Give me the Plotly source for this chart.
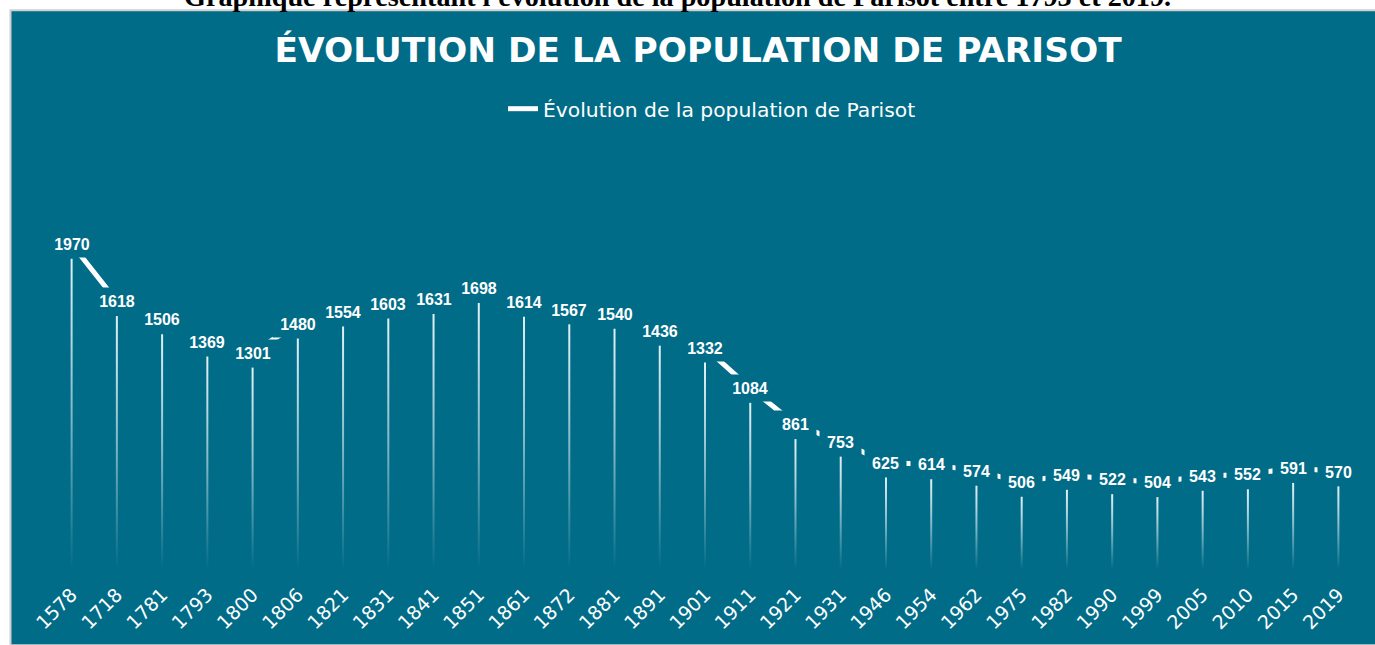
import plotly.graph_objects as go

# Census years and population counts for Parisot
years = ["1578", "1718", "1781", "1793", "1800", "1806", "1821", "1831", "1841", "1851",
         "1861", "1872", "1881", "1891", "1901", "1911", "1921", "1931", "1946", "1954",
         "1962", "1975", "1982", "1990", "1999", "2005", "2010", "2015", "2019"]
population = [1970, 1618, 1506, 1369, 1301, 1480, 1554, 1603, 1631, 1698,
              1614, 1567, 1540, 1436, 1332, 1084, 861, 753, 625, 614,
              574, 506, 549, 522, 504, 543, 552, 591, 570]

series_name = "Évolution de la population de Parisot"
chart_title = "ÉVOLUTION DE LA POPULATION DE PARISOT"
caption = "Graphique représentant l'évolution de la population de Parisot entre 1793 et 2019."

# ---- page geometry (pixels) ----
W, H = 1375, 645
M_L, M_R, M_T, M_B = 49, 14, 150, 61
PX_PER_UNIT = 0.1644
PLOT_W = W - M_L - M_R
PLOT_H = H - M_T - M_B
Y_MAX = PLOT_H / PX_PER_UNIT
LABEL_LIFT = 15 / PX_PER_UNIT      # labels and connecting line sit 15 px above each point
STEM_BASE = 60                     # where the fading stems vanish
STEP_PX = PLOT_W / len(years)
STEM_HALF = 1.0 / STEP_PX          # half of a 2 px stem, in x units
DIGIT_W = 8.9                      # bold 16 px digit advance
TILE_PAD = 12.5                    # extra tile width around each value label

BG = "#016c88"
WHITE = "#ffffff"


def paper_x(px):
    return (px - M_L) / PLOT_W


def paper_y(py):
    return (H - M_B - py) / PLOT_H


xpos = list(range(len(years)))

fig = go.Figure()

# Vertical stems with a vertical gradient fading out towards the bottom
stem_scale = [
    [0.0, "rgba(235,246,250,0)"],
    [0.25, "rgba(235,246,250,0.28)"],
    [0.5, "rgba(235,246,250,0.55)"],
    [0.75, "rgba(235,246,250,0.78)"],
    [1.0, "rgba(235,246,250,0.96)"],
]
for i, v in zip(xpos, population):
    fig.add_trace(go.Scatter(
        x=[i - STEM_HALF, i + STEM_HALF, i + STEM_HALF, i - STEM_HALF, i - STEM_HALF],
        y=[STEM_BASE, STEM_BASE, v, v, STEM_BASE],
        mode="lines", line=dict(width=0), fill="toself",
        fillgradient=dict(type="vertical", colorscale=stem_scale),
        hoverinfo="skip", showlegend=False,
    ))

# Connecting line (drawn on a lifted twin axis so it runs through the labels)
fig.add_trace(go.Scatter(
    x=xpos, y=population, yaxis="y2", mode="lines",
    line=dict(color=WHITE, width=5),
    name=series_name, hoverinfo="skip",
))

# Value labels on opaque tiles that mask the line between neighbours
for i, v in zip(xpos, population):
    label = str(v)
    fig.add_annotation(
        x=i, y=v, xref="x", yref="y2", text=label, showarrow=False,
        width=round(len(label) * DIGIT_W + TILE_PAD), height=24,
        bgcolor=BG, borderpad=1,
        font=dict(family="Liberation Sans, Arial, sans-serif", size=16, color=WHITE, weight="bold"),
    )

# Caption above the panel
fig.add_annotation(
    x=paper_x(677), y=paper_y(-5), xref="paper", yref="paper",
    text=caption, showarrow=False, xanchor="center", yanchor="middle",
    font=dict(family="Liberation Serif, Times New Roman, serif", size=28.2, color="#000000", weight="bold"),
)

# Teal panel
fig.add_shape(
    type="rect", xref="paper", yref="paper",
    x0=paper_x(10.5), x1=paper_x(W + 6), y0=paper_y(H + 6), y1=paper_y(8.5),
    fillcolor=BG, line=dict(color="#cfcfcf", width=2), layer="below",
)

fig.update_layout(
    width=W, height=H,
    margin=dict(l=M_L, r=M_R, t=M_T, b=M_B),
    paper_bgcolor="#ffffff",
    plot_bgcolor="rgba(0,0,0,0)",
    title=dict(
        text=chart_title, xref="container", yref="container",
        x=698 / W, xanchor="center", y=1 - 50 / H, yanchor="middle",
        font=dict(family="DejaVu Sans, sans-serif", size=34.4, color=WHITE, weight="bold"),
    ),
    legend=dict(
        orientation="h", xref="container", yref="container",
        x=503 / W, xanchor="left", y=1 - 109 / H, yanchor="middle",
        font=dict(family="DejaVu Sans, sans-serif", size=20.3, color=WHITE),
        bgcolor="rgba(0,0,0,0)",
    ),
    xaxis=dict(
        range=[-0.5, len(years) - 0.5],
        tickmode="array", tickvals=xpos, ticktext=years,
        showgrid=False, zeroline=False, showline=False, ticks="",
        tickangle=-45,
        tickfont=dict(family="DejaVu Sans, sans-serif", size=19, color=WHITE),
    ),
    yaxis=dict(range=[0, Y_MAX], visible=False, showgrid=False, zeroline=False),
    yaxis2=dict(range=[-LABEL_LIFT, Y_MAX - LABEL_LIFT], overlaying="y",
                visible=False, showgrid=False, zeroline=False),
    showlegend=True,
)

fig.write_html("out.html")
